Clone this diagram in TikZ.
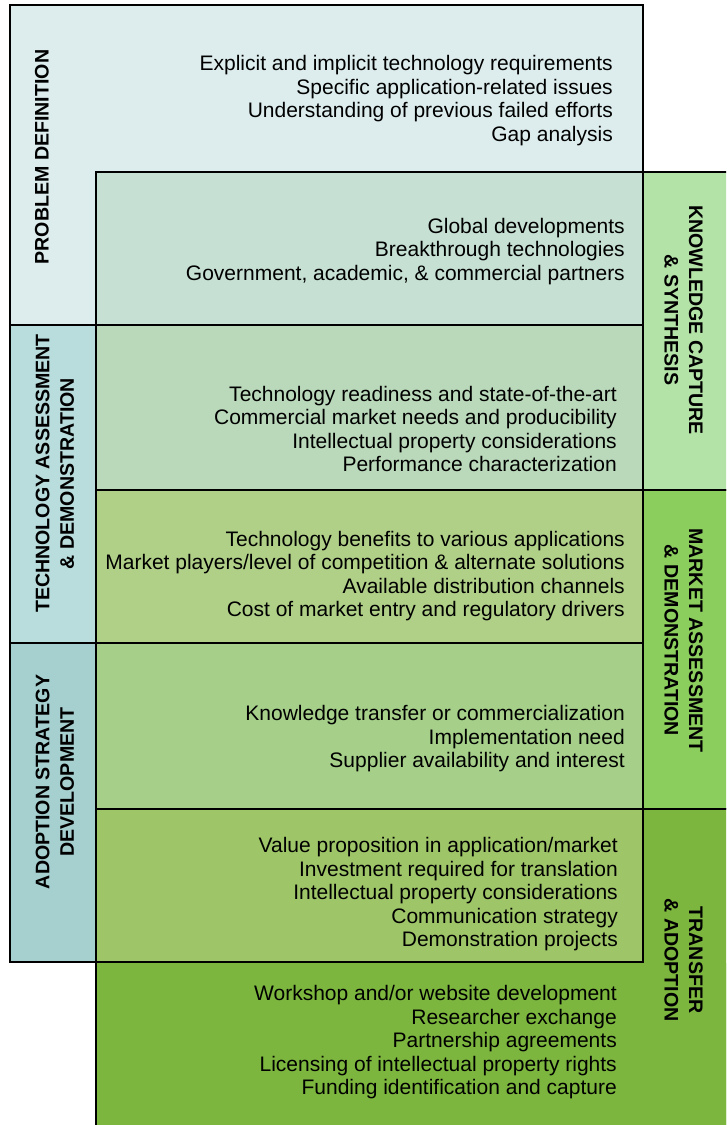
\documentclass[tikz,border=0pt]{standalone}
\usepackage{fontspec}
\setmainfont{Liberation Sans}
\definecolor{probdef}{HTML}{DDEDED}
\definecolor{techleft}{HTML}{B9DCDC}
\definecolor{adoptleft}{HTML}{A6D0D0}
\definecolor{rowone}{HTML}{C6E0D3}
\definecolor{rowtwo}{HTML}{BAD8BA}
\definecolor{rowthree}{HTML}{B0D088}
\definecolor{rowfour}{HTML}{A6D08A}
\definecolor{rowfive}{HTML}{9EC568}
\definecolor{rowsix}{HTML}{7CB63E}
\definecolor{knowright}{HTML}{B4E3A7}
\definecolor{marketright}{HTML}{8CCE5E}
\begin{document}
\begin{tikzpicture}[x=1pt,y=-1pt,
  items/.style={anchor=east,align=right,inner sep=0pt,font=\fontsize{21}{23.5}\selectfont},
  stage/.style={align=center,inner sep=0pt,font=\bfseries\fontsize{19.6}{24.5}\selectfont}]
\fill[white] (0,0) rectangle (726,1125);
\useasboundingbox (0,0) rectangle (726,1125);
\clip (0,0) rectangle (726,1125);
% boxes
\foreach \xa/\ya/\xb/\yb/\col in {
  10/5/643/325/probdef,
  10/325/96/643/techleft,
  10/643/96/962/adoptleft,
  96/172/643/325/rowone,
  96/325/643/490/rowtwo,
  96/490/643/643/rowthree,
  96/643/643/809/rowfour,
  96/809/643/962/rowfive,
  643/172/740/490/knowright,
  643/490/740/809/marketright}{
  \filldraw[fill=\col,draw=black,line width=1.5pt] (\xa,\ya) rectangle (\xb,\yb); }
% transfer and adoption
\fill[rowsix] (643,810) rectangle (740,1140);
\fill[rowsix] (97,963) rectangle (740,1140);
\draw[line width=1.5pt] (96,1140) -- (96,962) -- (643,962) -- (643,809) -- (740,809);
% stages
\node[stage,rotate=90] (pdlabel) at (42,157) {PROBLEM DEFINITION};
\node[stage,rotate=90] (talabel) at (55,473.5) {TECHNOLOGY ASSESSMENT\\\& DEMONSTRATION};
\node[stage,rotate=90] (aslabel) at (55,782) {ADOPTION STRATEGY\\DEVELOPMENT};
\node[stage,rotate=-90] (kclabel) at (683.5,320) {KNOWLEDGE CAPTURE\\\& SYNTHESIS};
\node[stage,rotate=-90] (malabel) at (683.5,640.5) {MARKET ASSESSMENT\\\& DEMONSTRATION};
\node[stage,rotate=-90] (trlabel) at (683.5,960) {TRANSFER\\\& ADOPTION};
% items
\node[items] (pditems) at (613,100.5) {Explicit and implicit technology requirements\\Specific application-related issues\\Understanding of previous failed efforts\\Gap analysis};
\node[items] (globitems) at (625,251.5) {Global developments\\Breakthrough technologies\\Government, academic, \& commercial partners};
\node[items] (techitems) at (617,429) {Technology readiness and state-of-the-art\\Commercial market needs and producibility\\Intellectual property considerations\\Performance characterization};
\node[items] (mktitems) at (625,576) {Technology benefits to various applications\\Market players/level of competition \& alternate solutions\\Available distribution channels\\Cost of market entry and regulatory drivers};
\node[items] (knowitems) at (625,739) {Knowledge transfer or commercialization\\Implementation need\\Supplier availability and interest};
\node[items] (valitems) at (618,894.5) {Value proposition in application/market\\Investment required for translation\\Intellectual property considerations\\Communication strategy\\Demonstration projects};
\node[items] (shopitems) at (617,1042.5) {Workshop and/or website development\\Researcher exchange\hspace{6pt}\\Partnership agreements\\Licensing of intellectual property rights\hspace{6pt}\\Funding identification and capture};
\end{tikzpicture}
\end{document}
